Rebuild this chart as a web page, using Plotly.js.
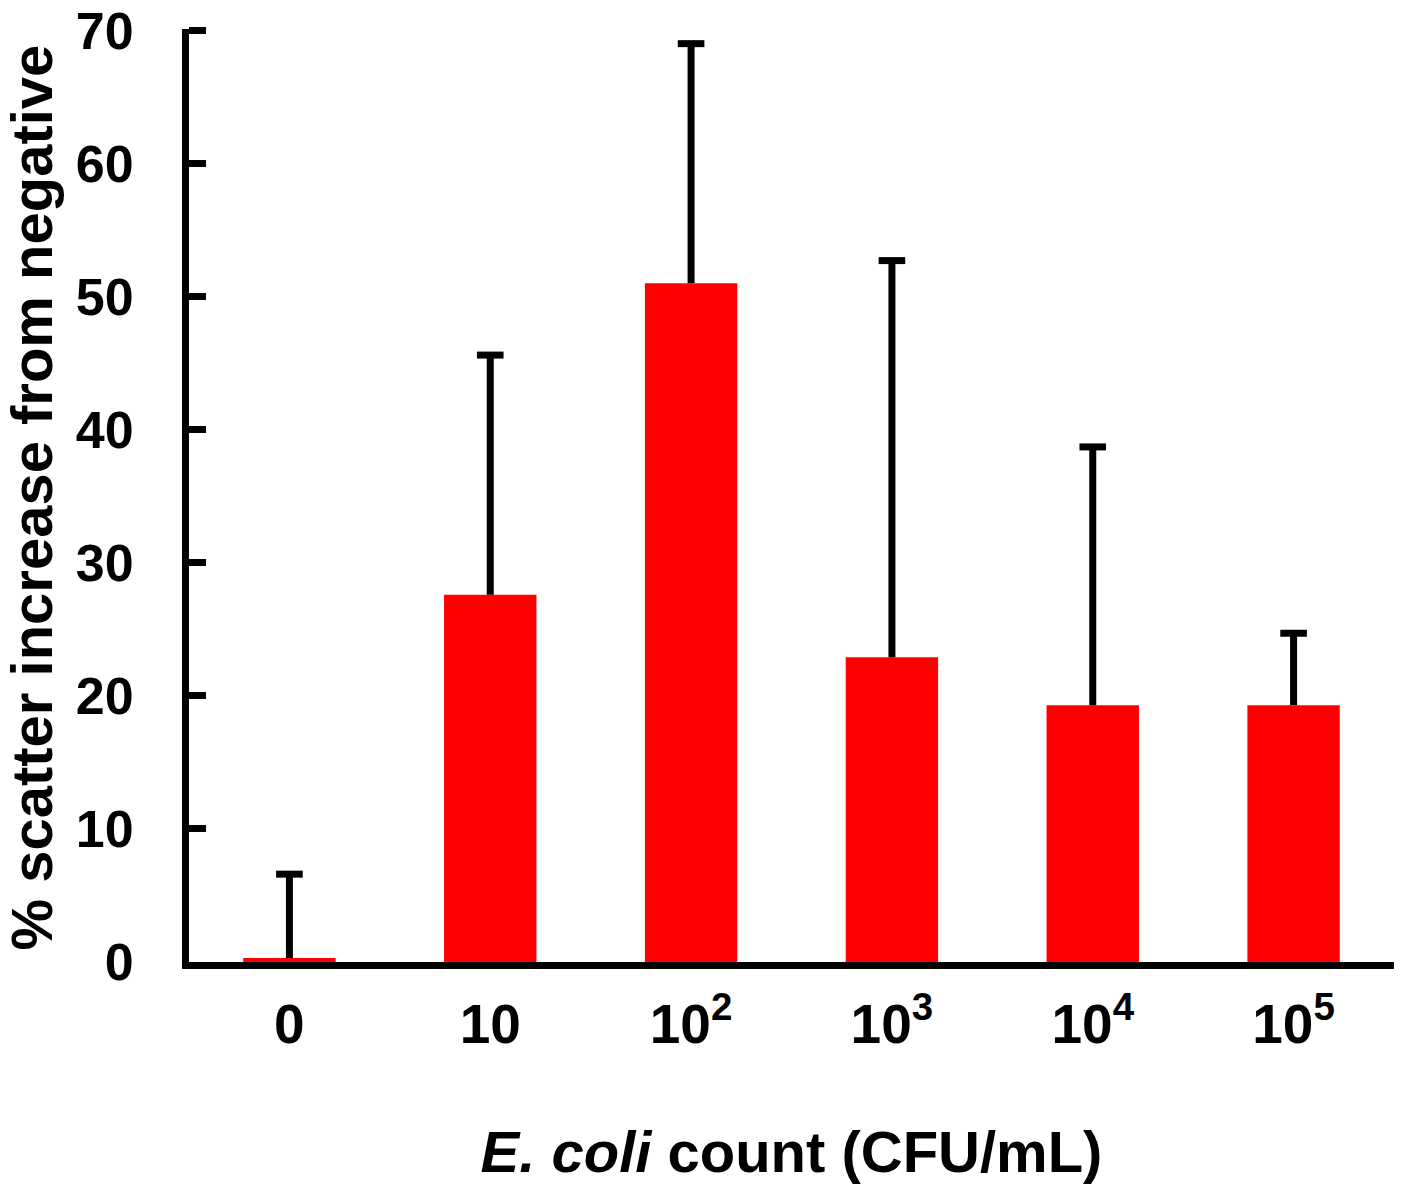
<!DOCTYPE html>
<html><head><meta charset="utf-8">
<script src="https://cdn.plot.ly/plotly-3.0.1.min.js"></script>
<style>body{margin:0;background:#fff}#chart{width:1402px;height:1184px}</style>
</head><body><div id="chart"></div>
<script>
const categories = ['0', '10', '10<sup>2</sup>', '10<sup>3</sup>', '10<sup>4</sup>', '10<sup>5</sup>'];
const means = [0.3, 27.6, 51.0, 22.9, 19.3, 19.3];
const errUp = [6.3, 18.0, 18.0, 29.8, 19.4, 5.4];
const yTicks = [0, 10, 20, 30, 40, 50, 60, 70];

const FAM = 'Liberation Sans, Arial, sans-serif';
const bars = {
  type: 'bar',
  x: categories,
  y: means,
  width: 0.46,
  marker: {color: '#ff0000', line: {width: 0}},
  error_y: {type: 'data', symmetric: false, array: errUp, arrayminus: means.map(() => 0),
            color: '#000', thickness: 7, width: 0},
  hoverinfo: 'none'
};
const caps = {
  type: 'scatter', mode: 'markers',
  x: categories,
  y: means.map((m, i) => m + errUp[i]),
  marker: {symbol: 'line-ew', size: 19, color: '#000', line: {color: '#000', width: 7}},
  hoverinfo: 'none', cliponaxis: false
};
const layout = {
  width: 1402, height: 1184,
  margin: {l: 189, r: 8, t: 29, b: 222},
  paper_bgcolor: '#fff', plot_bgcolor: '#fff',
  showlegend: false,
  font: {family: FAM, size: 55, color: '#000'},
  xaxis: {
    type: 'category', range: [-0.5, 5.5],
    showline: true, linecolor: '#000', linewidth: 7,
    ticks: '', showgrid: false, zeroline: false,
    tickfont: {family: FAM, size: 55, color: '#000', weight: 'bold'},
    ticklabelstandoff: 8,
    title: {text: '<i>E. coli</i> count (CFU/mL)', font: {family: FAM, size: 58, color: '#000', weight: 'bold'}, standoff: 87}
  },
  yaxis: {
    range: [0, 70.1], tickvals: yTicks, ticktext: yTicks.map(String),
    showline: true, linecolor: '#000', linewidth: 7,
    ticks: 'inside', ticklen: 17, tickwidth: 7, tickcolor: '#000',
    showgrid: false, zeroline: false,
    ticklabeloverflow: 'allow',
    tickfont: {family: FAM, size: 52, color: '#000', weight: 'bold'},
    ticklabelstandoff: 38
  },
  annotations: [{
    text: '% scatter increase from negative',
    xref: 'paper', yref: 'paper', x: 0, y: 0.5,
    xanchor: 'center', yanchor: 'middle', xshift: -158, yshift: -2,
    textangle: -90, showarrow: false, borderpad: 0,
    font: {family: FAM, size: 58, color: '#000', weight: 'bold'}
  }]
};
Plotly.newPlot('chart', [bars, caps], layout, {displayModeBar: false, staticPlot: true});
</script>
</body></html>
